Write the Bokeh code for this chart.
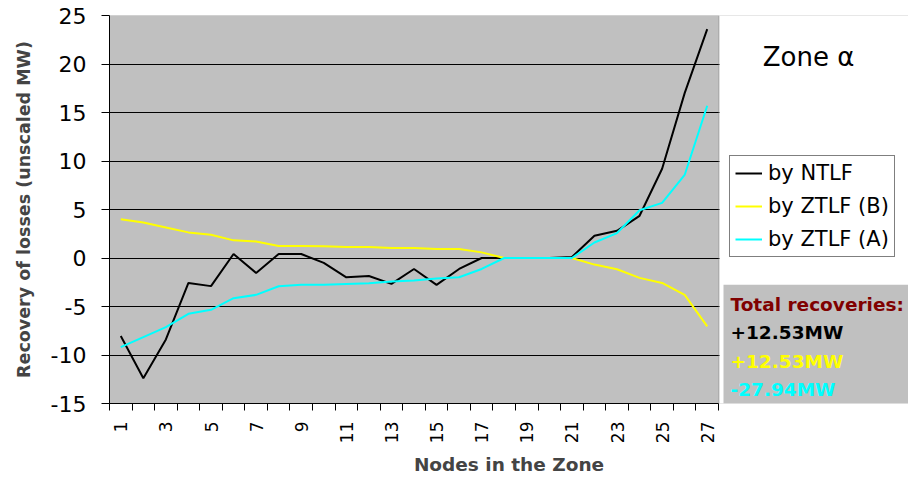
import math
from bokeh.plotting import figure
from bokeh.models import Range1d, FixedTicker, Legend, LegendItem, Label, BoxAnnotation
from bokeh.embed import file_html
from bokeh.resources import INLINE

# ---- data ----
nodes = list(range(1, 28))
ntlf = [-8.05, -12.4, -8.4, -2.57, -2.9, 0.41, -1.54, 0.41, 0.41, -0.5,
        -1.99, -1.85, -2.67, -1.13, -2.77, -1.13, 0.0, 0.0, 0.0, 0.0,
        0.1, 2.29, 2.8, 4.35, 9.2, 17.0, 23.6]
ztlf_b = [4.0, 3.66, 3.15, 2.64, 2.4, 1.82, 1.71, 1.23, 1.23, 1.2,
          1.13, 1.13, 1.03, 1.03, 0.92, 0.92, 0.58, 0.0, 0.0, 0.0,
          0.0, -0.68, -1.16, -2.05, -2.57, -3.8, -7.05]
ztlf_a = [-9.18, -8.15, -7.12, -5.75, -5.34, -4.14, -3.8, -2.91, -2.77, -2.77,
          -2.67, -2.6, -2.43, -2.33, -2.12, -1.99, -1.13, 0.0, 0.0, 0.0,
          0.0, 1.6, 2.57, 4.93, 5.68, 8.56, 15.7]
series_names = ["by NTLF", "by ZTLF (B)", "by ZTLF (A)"]
series_colors = ["#000000", "#ffff00", "#00ffff"]
label_ticks = list(range(1, 28, 2))
y_ticks = list(range(-15, 30, 5))
y_tick_labels = {t: str(t) for t in y_ticks}   # plain hyphen-minus as in the reference
totals_title = "Total recoveries:"
totals = ["+12.53MW", "+12.53MW", "-27.94MW"]
zone_title = "Zone \u03b1"

FONT = "DejaVu Sans"

# ---- layout (pixels on the canvas) ----
W, H = 908, 478
B_LEFT, B_TOP, B_BOTTOM = 109, 15, 74
PLOT_W = 609                      # width of the grey plot area
FRAME_W = W - B_LEFT              # frame spans to the right edge
FRAME_H = H - B_TOP - B_BOTTOM
X0, X1 = 0.5, 27.5
Y0, Y1 = -15, 25
px_per_x = PLOT_W / (X1 - X0)
x_end = X0 + FRAME_W / px_per_x


def xd(px):   # px from frame left -> data x
    return X0 + px / px_per_x


def yd(py):   # px from frame top -> data y
    return Y1 - py * (Y1 - Y0) / FRAME_H


p = figure(width=W, height=H, output_backend="svg", toolbar_location=None,
           x_range=Range1d(X0, x_end), y_range=Range1d(Y0, Y1),
           min_border_left=B_LEFT, min_border_right=0, min_border_top=B_TOP,
           min_border_bottom=B_BOTTOM)
p.background_fill_color = "#c0c0c0"
p.border_fill_color = "white"
p.outline_line_color = None

renderers = []
for ys, c in zip([ntlf, ztlf_b, ztlf_a], series_colors):
    renderers.append(p.line(nodes, ys, line_color=c, line_width=2))

# axes
xa = p.xaxis[0]
xa.bounds = (X0, X1)
xa.ticker = FixedTicker(ticks=label_ticks,
                        minor_ticks=[n - 0.5 for n in nodes] + [27.5])
xa.major_tick_out = 0
xa.major_tick_in = 0
xa.minor_tick_out = 7
xa.minor_tick_in = 0
xa.major_label_orientation = math.pi / 2
xa.major_label_standoff = 11
xa.major_label_text_font = FONT
xa.major_label_text_font_size = "17px"
xa.major_label_text_color = "black"
xa.axis_line_color = "black"
xa.minor_tick_line_color = "black"
xa.axis_label = "Nodes in the Zone"
xa.axis_label_text_font = FONT
xa.axis_label_text_font_style = "bold"
xa.axis_label_text_font_size = "18.5px"
xa.axis_label_standoff = 8

ya = p.yaxis[0]
ya.ticker = FixedTicker(ticks=y_ticks, minor_ticks=[])
ya.major_label_overrides = y_tick_labels
ya.major_tick_out = 8
ya.major_tick_in = 0
ya.minor_tick_out = 0
ya.minor_tick_in = 0
ya.major_label_standoff = 15
ya.major_label_text_font = FONT
ya.major_label_text_font_size = "22px"
ya.major_label_text_color = "black"
ya.axis_line_color = "black"
ya.major_tick_line_color = "black"
ya.axis_label = "Recovery of losses (unscaled MW)"
ya.axis_label_text_font = FONT
ya.axis_label_text_font_style = "bold"
ya.axis_label_text_font_size = "17.5px"
ya.axis_label_standoff = 14

p.xgrid.grid_line_color = None
p.ygrid.ticker = FixedTicker(ticks=y_ticks)
p.ygrid.grid_line_color = "#000000"
p.ygrid.grid_line_width = 1

# grey outline of the plot area
p.add_layout(BoxAnnotation(left=X0, right=X1, bottom=Y0, top=Y1, fill_alpha=0,
                           line_color="#808080", line_width=1, level="underlay"))
# white area to the right of the plot area
p.add_layout(BoxAnnotation(left=xd(PLOT_W + 1), fill_color="white", fill_alpha=1.0,
                           line_color=None))

legend = Legend(items=[LegendItem(label=n, renderers=[r]) for n, r in zip(series_names, renderers)],
                location=(620, 146))
legend.label_text_font = FONT
legend.label_text_font_size = "21px"
legend.label_text_color = "black"
legend.border_line_color = "black"
legend.border_line_width = 1
legend.background_fill_color = "white"
legend.background_fill_alpha = 1.0
legend.padding = 5
legend.spacing = 9
legend.glyph_width = 27
legend.glyph_height = 24
legend.label_height = 24
legend.label_standoff = 6
legend.margin = 0
p.add_layout(legend)

# grey totals box
p.add_layout(BoxAnnotation(left=xd(614), top=yd(270), fill_color="#c0c0c0", fill_alpha=1.0,
                           line_color=None))

p.add_layout(Label(x=xd(621), y=yd(290), text=totals_title,
                   text_color="#800000", text_font=FONT, text_font_style="bold",
                   text_font_size="18.5px", text_baseline="alphabetic"))
for i, (t, c) in enumerate(zip(totals, series_colors)):
    p.add_layout(Label(x=xd(621), y=yd(318 + i * 28.7), text=t,
                       text_color=c, text_font=FONT, text_font_style="bold",
                       text_font_size="18.5px", text_baseline="alphabetic"))

p.add_layout(Label(x=xd(699), y=yd(42), text=zone_title,
                   text_color="black", text_font=FONT, text_font_size="26px",
                   text_align="center", text_baseline="alphabetic"))

open("out.html", "w").write(file_html(p, INLINE))
